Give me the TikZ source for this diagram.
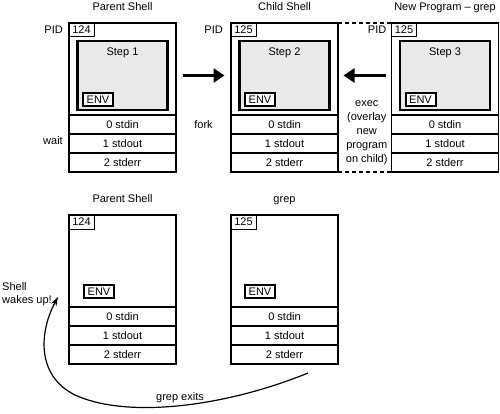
\documentclass[tikz,border=0pt]{standalone}
\usepackage{fontspec}
\setmainfont{Liberation Sans}
\usetikzlibrary{positioning,calc,arrows.meta}
\tikzset{
    procbox/.style={draw, line width=1.3pt, minimum width=107pt, minimum height=92pt, inner sep=0pt, outer sep=0pt},
    fdrow/.style={draw, line width=1.3pt, minimum width=107pt, minimum height=19pt, inner sep=0pt, outer sep=0pt},
    envarea/.style={draw, line width=2.3pt, fill=gray!17, minimum width=90pt, minimum height=69pt, inner sep=0pt, outer sep=0pt},
    pidbox/.style={draw, line width=1pt, minimum width=25pt, minimum height=14pt, inner sep=0pt, outer sep=0pt},
    envbox/.style={draw, line width=1.1pt, fill=white, inner sep=1.5pt, outer sep=0pt, minimum width=30pt, minimum height=13pt},
    title/.style={inner sep=0pt, text depth=0pt},
    lbl/.style={inner sep=1pt},
    bigarrow/.style={line width=3.5pt, -{Triangle[length=11pt,width=14pt]}},
    dashside/.style={line width=1.3pt, dash pattern=on 4pt off 3pt},
}
\begin{document}
\begin{tikzpicture}
    [x=1pt, y=-1pt, font=\fontsize{11}{14}\selectfont]
    \useasboundingbox (0,0) rectangle (500,414);
    % process boxes
    \node[procbox] (p1) at (122.5,69) {};
    \node[procbox] (p2) at (284.5,69) {};
    \node[procbox] (p3) at (445,69) {};
    \node[procbox] (p4) at (122.5,261) {};
    \node[procbox] (p5) at (284.5,261) {};
    % file descriptors
    \foreach \b in {1,...,5} {
        \node[fdrow, below=0pt of p\b] (in\b) {0 stdin};
        \node[fdrow, below=0pt of in\b] (out\b) {1 stdout};
        \node[fdrow, below=0pt of out\b] (err\b) {2 stderr};
    }
    % grey program areas
    \node[envarea, above=5pt of p1.south] (g1) {};
    \node[envarea, above=5pt of p2.south] (g2) {};
    \node[envarea, above=5pt of p3.south] (g3) {};
    \node[lbl, below=6pt of g1.north] (s1) {Step 1};
    \node[lbl, below=6pt of g2.north] (s2) {Step 2};
    \node[lbl, below=6pt of g3.north] (s3) {Step 3};
    % pids
    \node[pidbox, anchor=north west] (pid1) at (p1.north west) {124};
    \node[pidbox, anchor=north west] (pid2) at (p2.north west) {125};
    \node[pidbox, anchor=north west] (pid3) at (p3.north west) {125};
    \node[pidbox, anchor=north west] (pid4) at (p4.north west) {124};
    \node[pidbox, anchor=north west] (pid5) at (p5.north west) {125};
    \node[lbl, left=5pt of pid1] (pl1) {PID};
    \node[lbl, left=7pt of pid2] (pl2) {PID};
    \node[lbl, left=4pt of pid3] (pl3) {PID};
    % environments
    \node[envbox, line width=2pt, above right=9pt and 14pt of p1.south west] (e1) {ENV};
    \node[envbox, line width=2pt, above right=9pt and 14pt of p2.south west] (e2) {ENV};
    \node[envbox, line width=2pt, above right=9pt and 14pt of p3.south west] (e3) {ENV};
    \node[envbox, above right=9pt and 15pt of p4.south west] (e4) {ENV};
    \node[envbox, above right=9pt and 14pt of p5.south west] (e5) {ENV};
    % titles
    \node[title, above=12pt of p1.north] (t1) {Parent Shell};
    \node[title, above=12pt of p2.north] (t2) {Child Shell};
    \node[title, above=12pt of p3.north] (t3) {New Program -- grep};
    \node[title, above=12pt of p4.north] (t4) {Parent Shell};
    \node[title, above=12pt of p5.north] (t5) {grep};
    % fork
    \draw[bigarrow, shorten <=15pt, shorten >=15pt] (g1) -- (g2);
    \node[lbl] (fork) at ($(in1.east)!0.5!(in2.west)$) {fork};
    \node[lbl, left=5pt of out1.west, yshift=3pt] (wait) {wait};
    % exec
    \draw[bigarrow, shorten <=14pt, shorten >=14pt] (g3) -- (g2);
    \draw[dashside] (p2.north east) -- (p3.north west);
    \draw[dashside] (err2.south east) -- (err3.south west);
    \node[align=center, inner sep=0pt] (exec) at ($(p2.east)!0.5!(p3.west)+(2,64)$) {exec\\(overlay\\new\\program\\on child)};
    % grep exits
    \node[align=left, anchor=north west, inner sep=0pt, font=\fontsize{11}{13}\selectfont] (wake) at (2,282) {Shell\\wakes up!};
    \coordinate (exitpt) at ($(err5.south)+(23.5,9)$);
    \coordinate (wakept) at ($(p4.south west)+(-11,-10)$);
    \draw[line width=1.2pt, -{Stealth[length=9pt,width=6pt]}] (exitpt)
        .. controls (230,405) and (130,420) .. (75,395)
        .. controls (35,375) and (40,330) .. (wakept);
    \node (exits) at (180,398) {grep exits};
\end{tikzpicture}
\end{document}
